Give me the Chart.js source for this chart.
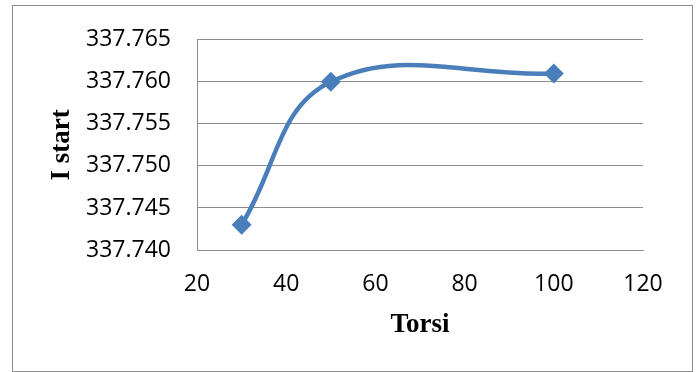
<!DOCTYPE html>
<html>
<head>
<meta charset="utf-8">
<script src="https://cdn.jsdelivr.net/npm/chart.js@4.4.0/dist/chart.umd.min.js"></script>
<style>
  body { margin: 0; background: #fff; }
  #wrap { position: relative; width: 699px; height: 372px; }
  #frame { position: absolute; left: 12px; top: 5px; width: 679px; height: 365px; border: 1px solid #8c8c8c; }
  #chart { position: absolute; left: 0; top: 0; }
</style>
</head>
<body>
<div id="wrap">
  <div id="frame"></div>
  <canvas id="chart" width="699" height="372"></canvas>
</div>
<script>
  // data
  const torsi = [30, 50, 100];
  const iStart = [337.743, 337.760, 337.761];
  const xTicks = [20, 40, 60, 80, 100, 120];
  const yTicks = [337.740, 337.745, 337.750, 337.755, 337.760, 337.765];

  const blue = "#4a7ebb";
  const gridColor = "#8c8c8c";

  const points = torsi.map((x, i) => ({ x: x, y: iStart[i] }));

  const ctx = document.getElementById("chart").getContext("2d");

  new Chart(ctx, {
    type: "scatter",
    data: {
      datasets: [{
        data: points,
        showLine: true,
        borderColor: blue,
        backgroundColor: blue,
        borderWidth: 4.5,
        tension: 0.4,
        pointStyle: "rectRot",
        pointRadius: 10,
        pointHoverRadius: 10,
        pointBorderWidth: 0
      }]
    },
    options: {
      responsive: false,
      animation: false,
      layout: { padding: { left: 0, right: 56, top: 35, bottom: 0 } },
      plugins: {
        legend: { display: false },
        tooltip: { enabled: false }
      },
      scales: {
        x: {
          type: "linear",
          min: 20,
          max: 120,
          afterBuildTicks: s => { s.ticks = xTicks.map(v => ({ value: v })); },
          afterFit: s => { s.height = 122; },
          grid: { display: false, drawTicks: false },
          border: { display: true, color: gridColor, width: 1 },
          ticks: {
            padding: 21,
            color: "#000",
            font: { family: "Open Sans", size: 23 }
          },
          title: {
            display: true,
            text: "Torsi",
            color: "#000",
            padding: { top: 0, bottom: 31 },
            font: { family: "Liberation Serif", size: 27, weight: "bold" }
          }
        },
        y: {
          type: "linear",
          min: 337.740,
          max: 337.765,
          afterBuildTicks: s => { s.ticks = yTicks.map(v => ({ value: v })); },
          afterFit: s => { s.width = 197; },
          grid: { color: gridColor, lineWidth: 1, drawTicks: false },
          border: { display: true, color: gridColor, width: 1 },
          ticks: {
            padding: 26,
            color: "#000",
            font: { family: "Open Sans", size: 23 },
            callback: v => v.toFixed(3)
          },
          title: {
            display: true,
            text: "I start",
            color: "#000",
            padding: { top: 46, bottom: 0 },
            font: { family: "Liberation Serif", size: 27, weight: "bold" }
          }
        }
      }
    }
  });
</script>
</body>
</html>
